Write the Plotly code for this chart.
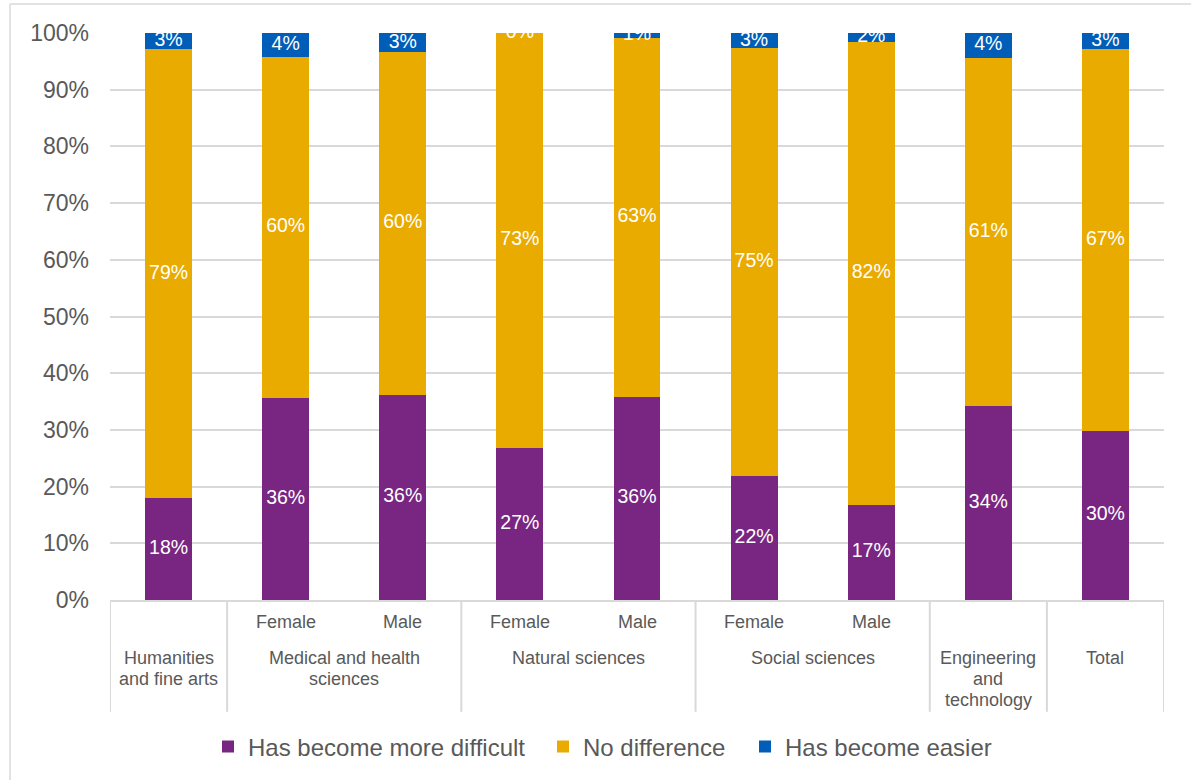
import plotly.graph_objects as go

# Survey groups (outer label lines, inner sex label) and stacked shares in percent
categories = [
    "Humanities and fine arts",
    "Medical and health sciences - Female",
    "Medical and health sciences - Male",
    "Natural sciences - Female",
    "Natural sciences - Male",
    "Social sciences - Female",
    "Social sciences - Male",
    "Engineering and technology",
    "Total",
]
sub_labels = ["", "Female", "Male", "Female", "Male", "Female", "Male", "", ""]
group_labels = [
    ["Humanities", "and fine arts"],
    ["Medical and health", "sciences"],
    ["Natural sciences"],
    ["Social sciences"],
    ["Engineering", "and", "technology"],
    ["Total"],
]
group_members = [[0], [1, 2], [3, 4], [5, 6], [7], [8]]

more_difficult = [18.0, 35.6, 36.2, 26.8, 35.8, 21.9, 16.8, 34.2, 29.8]
no_difference = [79.1, 60.2, 60.4, 73.2, 63.4, 75.4, 81.6, 61.4, 67.4]
easier = [2.9, 4.2, 3.4, 0.0, 0.8, 2.7, 1.6, 4.4, 2.8]

series = [
    ("Has become more difficult", more_difficult, "#782682"),
    ("No difference", no_difference, "#EAAB00"),
    ("Has become easier", easier, "#005EB8"),
]

FONT = "Liberation Sans, Arial, sans-serif"
GREY = "#595959"
LINE = "#D9D9D9"

# plot area in pixels: left edge and width, used to place items outside it
PLOT_L, PLOT_W, PLOT_H = 110, 1054, 568

fig = go.Figure()

legend_ids = ["legend", "legend2", "legend3"]
legend_left_px = [208, 543, 745]

base = [0.0] * len(categories)
label_traces = []
for (name, values, color), lid in zip(series, legend_ids):
    fig.add_trace(go.Bar(
        x=categories, y=values, name=name, legend=lid,
        marker=dict(color=color, line=dict(width=0)),
        hoverinfo="skip",
    ))
    centers = [b + v / 2 for b, v in zip(base, values)]
    label_traces.append(go.Scatter(
        x=categories, y=centers, mode="text",
        text=[f"{v:.0f}%" for v in values],
        textposition="middle center",
        textfont=dict(family=FONT, size=19.5, color="white"),
        cliponaxis=True, showlegend=False, hoverinfo="skip",
    ))
    base = [b + v for b, v in zip(base, values)]

for tr in label_traces:
    fig.add_trace(tr)

annotations = []
# inner row: Female / Male
for i, lab in enumerate(sub_labels):
    if lab:
        annotations.append(dict(
            x=i, y=0, xref="x", yref="paper", text=lab, showarrow=False,
            xanchor="center", yanchor="middle", yshift=-22,
            font=dict(family=FONT, size=18, color=GREY),
        ))
# outer row: subject areas, one annotation per line
for lines, members in zip(group_labels, group_members):
    xc = sum(members) / len(members)
    for k, line in enumerate(lines):
        annotations.append(dict(
            x=xc, y=0, xref="x", yref="paper", text=line, showarrow=False,
            xanchor="center", yanchor="middle", yshift=-58 - 21 * k,
            font=dict(family=FONT, size=18, color=GREY),
        ))

shapes = []
# dividers between subject areas below the axis
edges = [members[0] - 0.5 for members in group_members] + [group_members[-1][-1] + 0.5]
for xe in edges:
    shapes.append(dict(
        type="line", xref="x", yref="paper", x0=xe, x1=xe, y0=0, y1=-112 / PLOT_H,
        line=dict(color=LINE, width=2),
    ))
# chart-area frame
frame_x = (10 - PLOT_L) / PLOT_W
frame_y = 597 / PLOT_H
shapes.append(dict(type="line", xref="paper", yref="paper",
                   x0=frame_x, x1=frame_x, y0=frame_y, y1=-0.4,
                   line=dict(color=LINE, width=1.5)))
shapes.append(dict(type="line", xref="paper", yref="paper",
                   x0=frame_x, x1=1.05, y0=frame_y, y1=frame_y,
                   line=dict(color=LINE, width=1.5)))

legend_style = dict(
    orientation="h", xanchor="left", y=-146 / PLOT_H, yanchor="middle",
    font=dict(family=FONT, size=24, color=GREY), bgcolor="rgba(0,0,0,0)",
)
legends = {
    lid: dict(legend_style, x=(px - PLOT_L) / PLOT_W)
    for lid, px in zip(legend_ids, legend_left_px)
}

fig.update_layout(
    width=1191, height=780,
    margin=dict(l=PLOT_L, r=27, t=33, b=179),
    paper_bgcolor="white", plot_bgcolor="white",
    barmode="stack", bargap=0.6,
    font=dict(family=FONT, color=GREY),
    showlegend=True,
    annotations=annotations,
    shapes=shapes,
    xaxis=dict(
        type="category", range=[-0.5, 8.5], showticklabels=False, ticks="",
        showline=True, linecolor=LINE, linewidth=2, showgrid=False, zeroline=False,
    ),
    yaxis=dict(
        range=[0, 100], dtick=10, ticksuffix="%", ticks="",
        showgrid=True, gridcolor=LINE, gridwidth=1.5, zeroline=False, showline=False,
        tickfont=dict(family=FONT, size=23, color=GREY),
        ticklabelstandoff=20,
    ),
    **legends,
)

fig.write_html("out.html")
